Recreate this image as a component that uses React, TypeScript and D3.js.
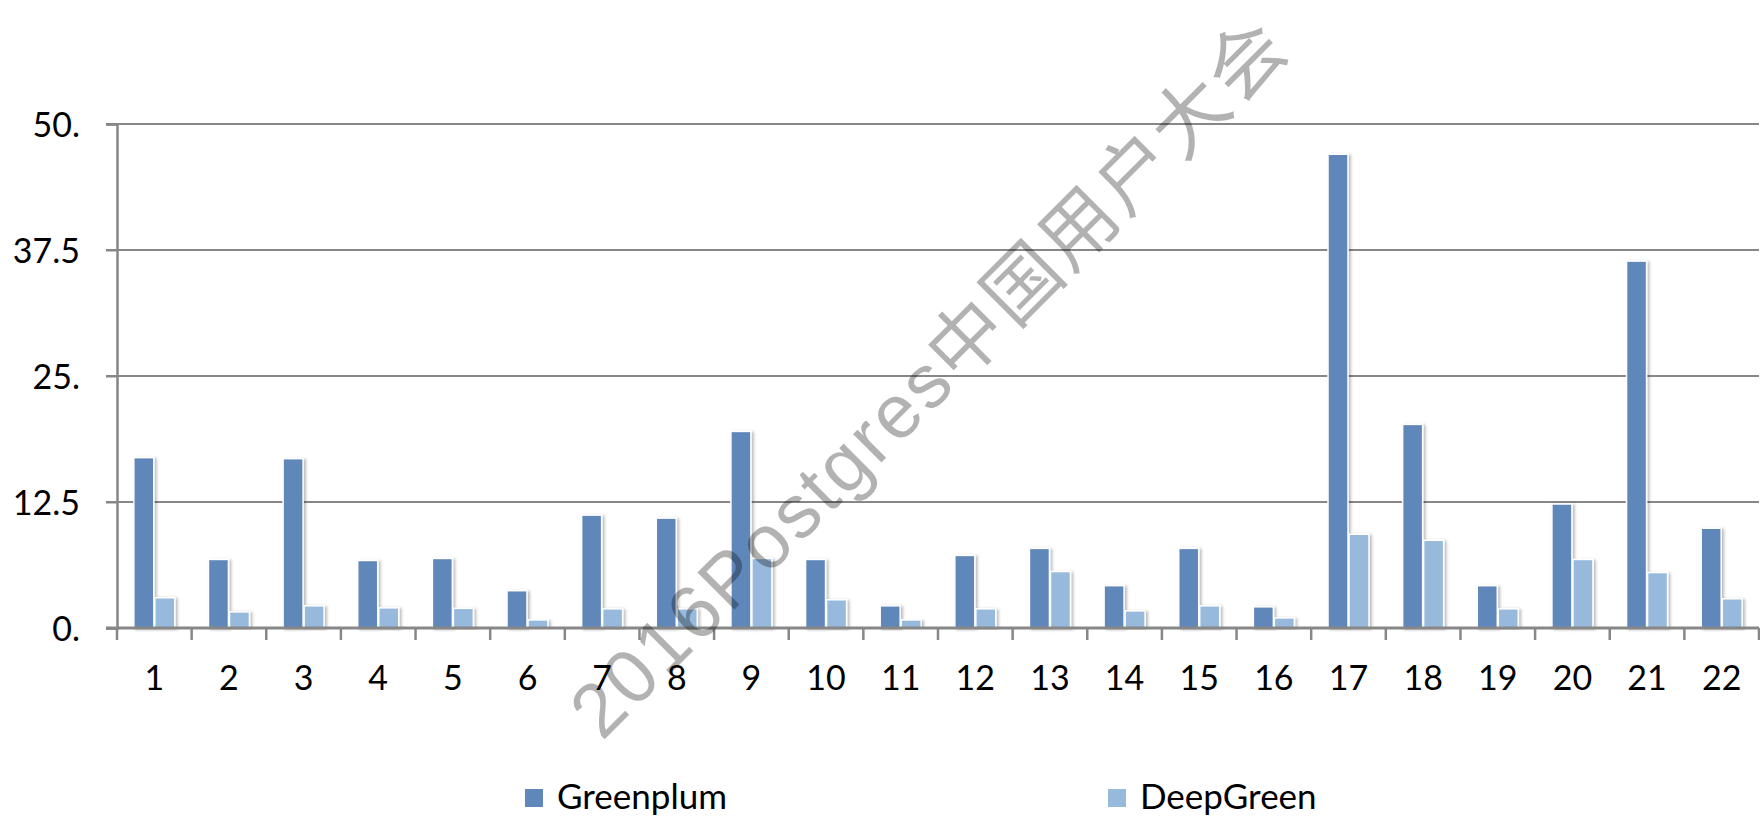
import { useEffect, useRef } from "react";
import * as d3 from "d3";

const categories = ["1", "2", "3", "4", "5", "6", "7", "8", "9", "10", "11", "12", "13", "14", "15", "16", "17", "18", "19", "20", "21", "22"];
const seriesNames = ["Greenplum", "DeepGreen"];
const greenplum = [16.9, 6.8, 16.8, 6.7, 6.9, 3.7, 11.2, 10.9, 19.5, 6.8, 2.2, 7.2, 7.9, 4.2, 7.9, 2.1, 47.0, 20.2, 4.2, 12.3, 36.4, 9.9];
const deepgreen = [3.0, 1.6, 2.2, 2.0, 1.95, 0.8, 1.9, 1.9, 6.9, 2.8, 0.8, 1.9, 5.6, 1.7, 2.2, 1.0, 9.3, 8.7, 1.9, 6.8, 5.5, 2.9];
const yTicks = [0, 12.5, 25, 37.5, 50];
const yTickLabels = ["0.", "12.5", "25.", "37.5", "50."];
const colors = ["#5f87ba", "#96b9dc"];
const watermark = "2016Postgres中国用户大会";

function renderChart(el: SVGSVGElement) {
  const w = 1760,
    h = 816,
    margin = { top: 124, right: 1, bottom: 188, left: 117 };
  const svg = d3.select(el);
  svg.selectAll("*").remove();
  svg.attr("width", w).attr("height", h).attr("viewBox", `0 0 ${w} ${h}`);

  const font = "Lato, 'Open Sans', sans-serif";
  const axisColor = "#878787";

  const defs = svg.append("defs");
  const f = defs.append("filter").attr("id", "shadow").attr("x", "-30%").attr("y", "-10%").attr("width", "160%").attr("height", "120%");
  f.append("feDropShadow").attr("dx", 2).attr("dy", 1).attr("stdDeviation", 1.5).attr("flood-color", "#000").attr("flood-opacity", 0.28);

  const x0 = d3.scaleBand().domain(categories).range([margin.left, w - margin.right]);
  const bw = x0.bandwidth();
  const x1 = d3.scaleBand().domain(seriesNames).range([(bw - 42) / 2, (bw + 42) / 2]);
  const y = d3.scaleLinear().domain([0, 50]).range([h - margin.bottom, margin.top]);

  // gridlines, starting at the tick stub left of the axis
  yTicks.forEach((t) => {
    if (t === 0) return;
    svg
      .append("line")
      .attr("x1", margin.left - 11)
      .attr("x2", w - margin.right)
      .attr("y1", y(t))
      .attr("y2", y(t))
      .attr("stroke", axisColor)
      .attr("stroke-width", 2);
  });

  const rows = categories.map((c, i) => ({ cat: c, vals: [greenplum[i], deepgreen[i]] }));
  const groups = svg
    .selectAll(".grp")
    .data(rows)
    .join("g")
    .attr("transform", (d) => `translate(${x0(d.cat)},0)`);

  seriesNames.forEach((s, si) => {
    groups
      .append("rect")
      .attr("x", (x1(s) as number) + 0.5)
      .attr("width", x1.bandwidth() - 1)
      .attr("y", (d) => y(d.vals[si]))
      .attr("height", (d) => y(0) - y(d.vals[si]))
      .attr("fill", colors[si])
      .attr("stroke", "#fff")
      .attr("stroke-width", 1.5)
      .attr("filter", "url(#shadow)");
  });

  // x axis line + ticks on category boundaries
  svg
    .append("line")
    .attr("x1", margin.left - 11)
    .attr("x2", w - margin.right)
    .attr("y1", y(0))
    .attr("y2", y(0))
    .attr("stroke", axisColor)
    .attr("stroke-width", 3);
  const bounds = categories.map((c) => x0(c) as number).concat([w - margin.right]);
  bounds.forEach((bx) => {
    svg
      .append("line")
      .attr("x1", bx)
      .attr("x2", bx)
      .attr("y1", y(0))
      .attr("y2", y(0) + 12)
      .attr("stroke", axisColor)
      .attr("stroke-width", 2.5);
  });

  const yAxis = svg
    .append("g")
    .attr("transform", `translate(${margin.left},0)`)
    .call(
      d3
        .axisLeft(y)
        .tickValues(yTicks)
        .tickSize(11)
        .tickPadding(26)
        .tickFormat((d, i) => yTickLabels[i])
    );
  yAxis.select(".domain").attr("stroke", axisColor).attr("stroke-width", 2.5);
  yAxis.selectAll(".tick line").attr("stroke", axisColor).attr("stroke-width", 2);
  yAxis
    .selectAll(".tick text")
    .attr("font-family", font)
    .attr("font-size", 34)
    .attr("fill", "#000")
    .attr("dy", "0.36em");

  svg
    .append("g")
    .selectAll("text")
    .data(categories)
    .join("text")
    .attr("x", (d) => (x0(d) as number) + bw / 2)
    .attr("y", y(0) + 62)
    .attr("text-anchor", "middle")
    .attr("font-family", font)
    .attr("font-size", 34)
    .text((d) => d);

  // watermark
  svg
    .append("text")
    .attr("transform", "translate(602,742) rotate(-45)")
    .attr("font-family", "'Liberation Sans', 'Noto Sans CJK SC', sans-serif")
    .attr("font-size", 76)
    .attr("textLength", 975)
    .attr("lengthAdjust", "spacing")
    .attr("fill", "#000")
    .attr("fill-opacity", 0.3)
    .text(watermark);

  const legendX = [525, 1108];
  seriesNames.forEach((s, i) => {
    const g = svg.append("g").attr("transform", `translate(${legendX[i]},789)`);
    g.append("rect").attr("width", 18).attr("height", 18).attr("fill", colors[i]);
    g.append("text")
      .attr("x", 32)
      .attr("y", 20)
      .attr("font-family", font)
      .attr("font-size", 35)
      .text(s);
  });
}

export default function App() {
  const ref = useRef<SVGSVGElement>(null);
  useEffect(() => {
    if (ref.current) renderChart(ref.current);
  }, []);
  return (
    <div style={{ position: "absolute", left: 0, top: 0, background: "#fff" }}>
      <svg ref={ref} style={{ display: "block" }} />
    </div>
  );
}
